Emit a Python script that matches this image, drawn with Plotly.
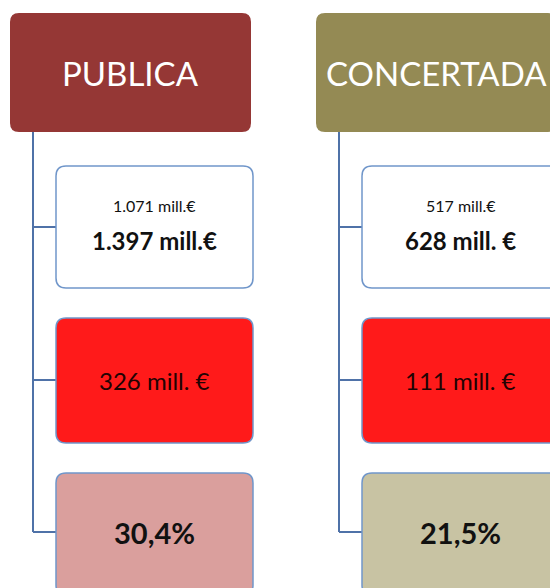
import plotly.graph_objects as go

# ---- data ----
sectors = ["PUBLICA", "CONCERTADA"]
prev_amount = ["1.071 mill.€", "517 mill.€"]
curr_amount = ["1.397 mill.€", "628 mill. €"]
diff_amount = ["326 mill. €", "111 mill. €"]
pct_increase = ["30,4%", "21,5%"]

# ---- styles ----
header_colors = ["#953735", "#948A54"]
pct_colors = ["#DA9F9D", "#C8C3A3"]
diff_color = "#FF1A1A"
box_border = "#7096CA"
tree_color = "#4F72A8"
FONT = "Lato"

W, H = 550, 588
col_step = 306
header_x0, header_w, header_y0, header_y1 = 10, 241, 13, 132
tree_dx = 23
box_dx, box_w = 46, 197
box_rows = [(166, 288), (318, 443), (473, 595)]
row_centers = [227, 380, 532]


def rrect(x0, y0, x1, y1, r):
    return (f"M{x0 + r},{y0} L{x1 - r},{y0} Q{x1},{y0} {x1},{y0 + r} "
            f"L{x1},{y1 - r} Q{x1},{y1} {x1 - r},{y1} L{x0 + r},{y1} "
            f"Q{x0},{y1} {x0},{y1 - r} L{x0},{y0 + r} Q{x0},{y0} {x0 + r},{y0} Z")


fig = go.Figure()
shapes = []
annotations = []

for i, name in enumerate(sectors):
    hx0 = header_x0 + i * col_step
    shapes.append(dict(type="path", path=rrect(hx0, header_y0, hx0 + header_w, header_y1, 9),
                       fillcolor=header_colors[i], line=dict(width=0), layer="above"))
    annotations.append(dict(x=hx0 + header_w / 2, y=(header_y0 + header_y1) / 2,
                            text=name, showarrow=False, xanchor="center", yanchor="middle",
                            font=dict(family=FONT, size=33, color="#FFFFFF")))
    tx = hx0 + tree_dx
    bx0 = hx0 + box_dx
    shapes.append(dict(type="line", x0=tx, x1=tx, y0=header_y1, y1=row_centers[-1],
                       line=dict(color=tree_color, width=2), layer="below"))
    for c in row_centers:
        shapes.append(dict(type="line", x0=tx, x1=bx0, y0=c, y1=c,
                           line=dict(color=tree_color, width=2), layer="below"))
    fills = ["#FFFFFF", diff_color, pct_colors[i]]
    for (y0, y1), f in zip(box_rows, fills):
        shapes.append(dict(type="path", path=rrect(bx0, y0, bx0 + box_w, y1, 10),
                           fillcolor=f, line=dict(color=box_border, width=1.5), layer="above"))
    cx = bx0 + box_w / 2
    annotations.append(dict(x=cx, y=205, text=prev_amount[i], showarrow=False,
                            xanchor="center", yanchor="middle",
                            font=dict(family=FONT, size=16, color="#111111")))
    annotations.append(dict(x=cx, y=240, text="<b>" + curr_amount[i] + "</b>", showarrow=False,
                            xanchor="center", yanchor="middle",
                            font=dict(family=FONT, size=24, color="#111111")))
    annotations.append(dict(x=cx, y=380, text=diff_amount[i], showarrow=False,
                            xanchor="center", yanchor="middle",
                            font=dict(family=FONT, size=24, color="#220303")))
    annotations.append(dict(x=cx, y=532, text="<b>" + pct_increase[i] + "</b>", showarrow=False,
                            xanchor="center", yanchor="middle",
                            font=dict(family=FONT, size=29, color="#111111")))

fig.update_layout(
    width=W, height=H, margin=dict(l=0, r=0, t=0, b=0),
    paper_bgcolor="#FFFFFF", plot_bgcolor="#FFFFFF",
    xaxis=dict(range=[0, W], visible=False, fixedrange=True),
    yaxis=dict(range=[H, 0], visible=False, fixedrange=True),
    shapes=shapes, annotations=annotations, showlegend=False,
)

# remove the default page margin so the figure fills the window exactly
fig.write_html("out.html", config={"displayModeBar": False},
               post_script="document.body.style.margin='0';document.body.style.overflow='hidden';")
